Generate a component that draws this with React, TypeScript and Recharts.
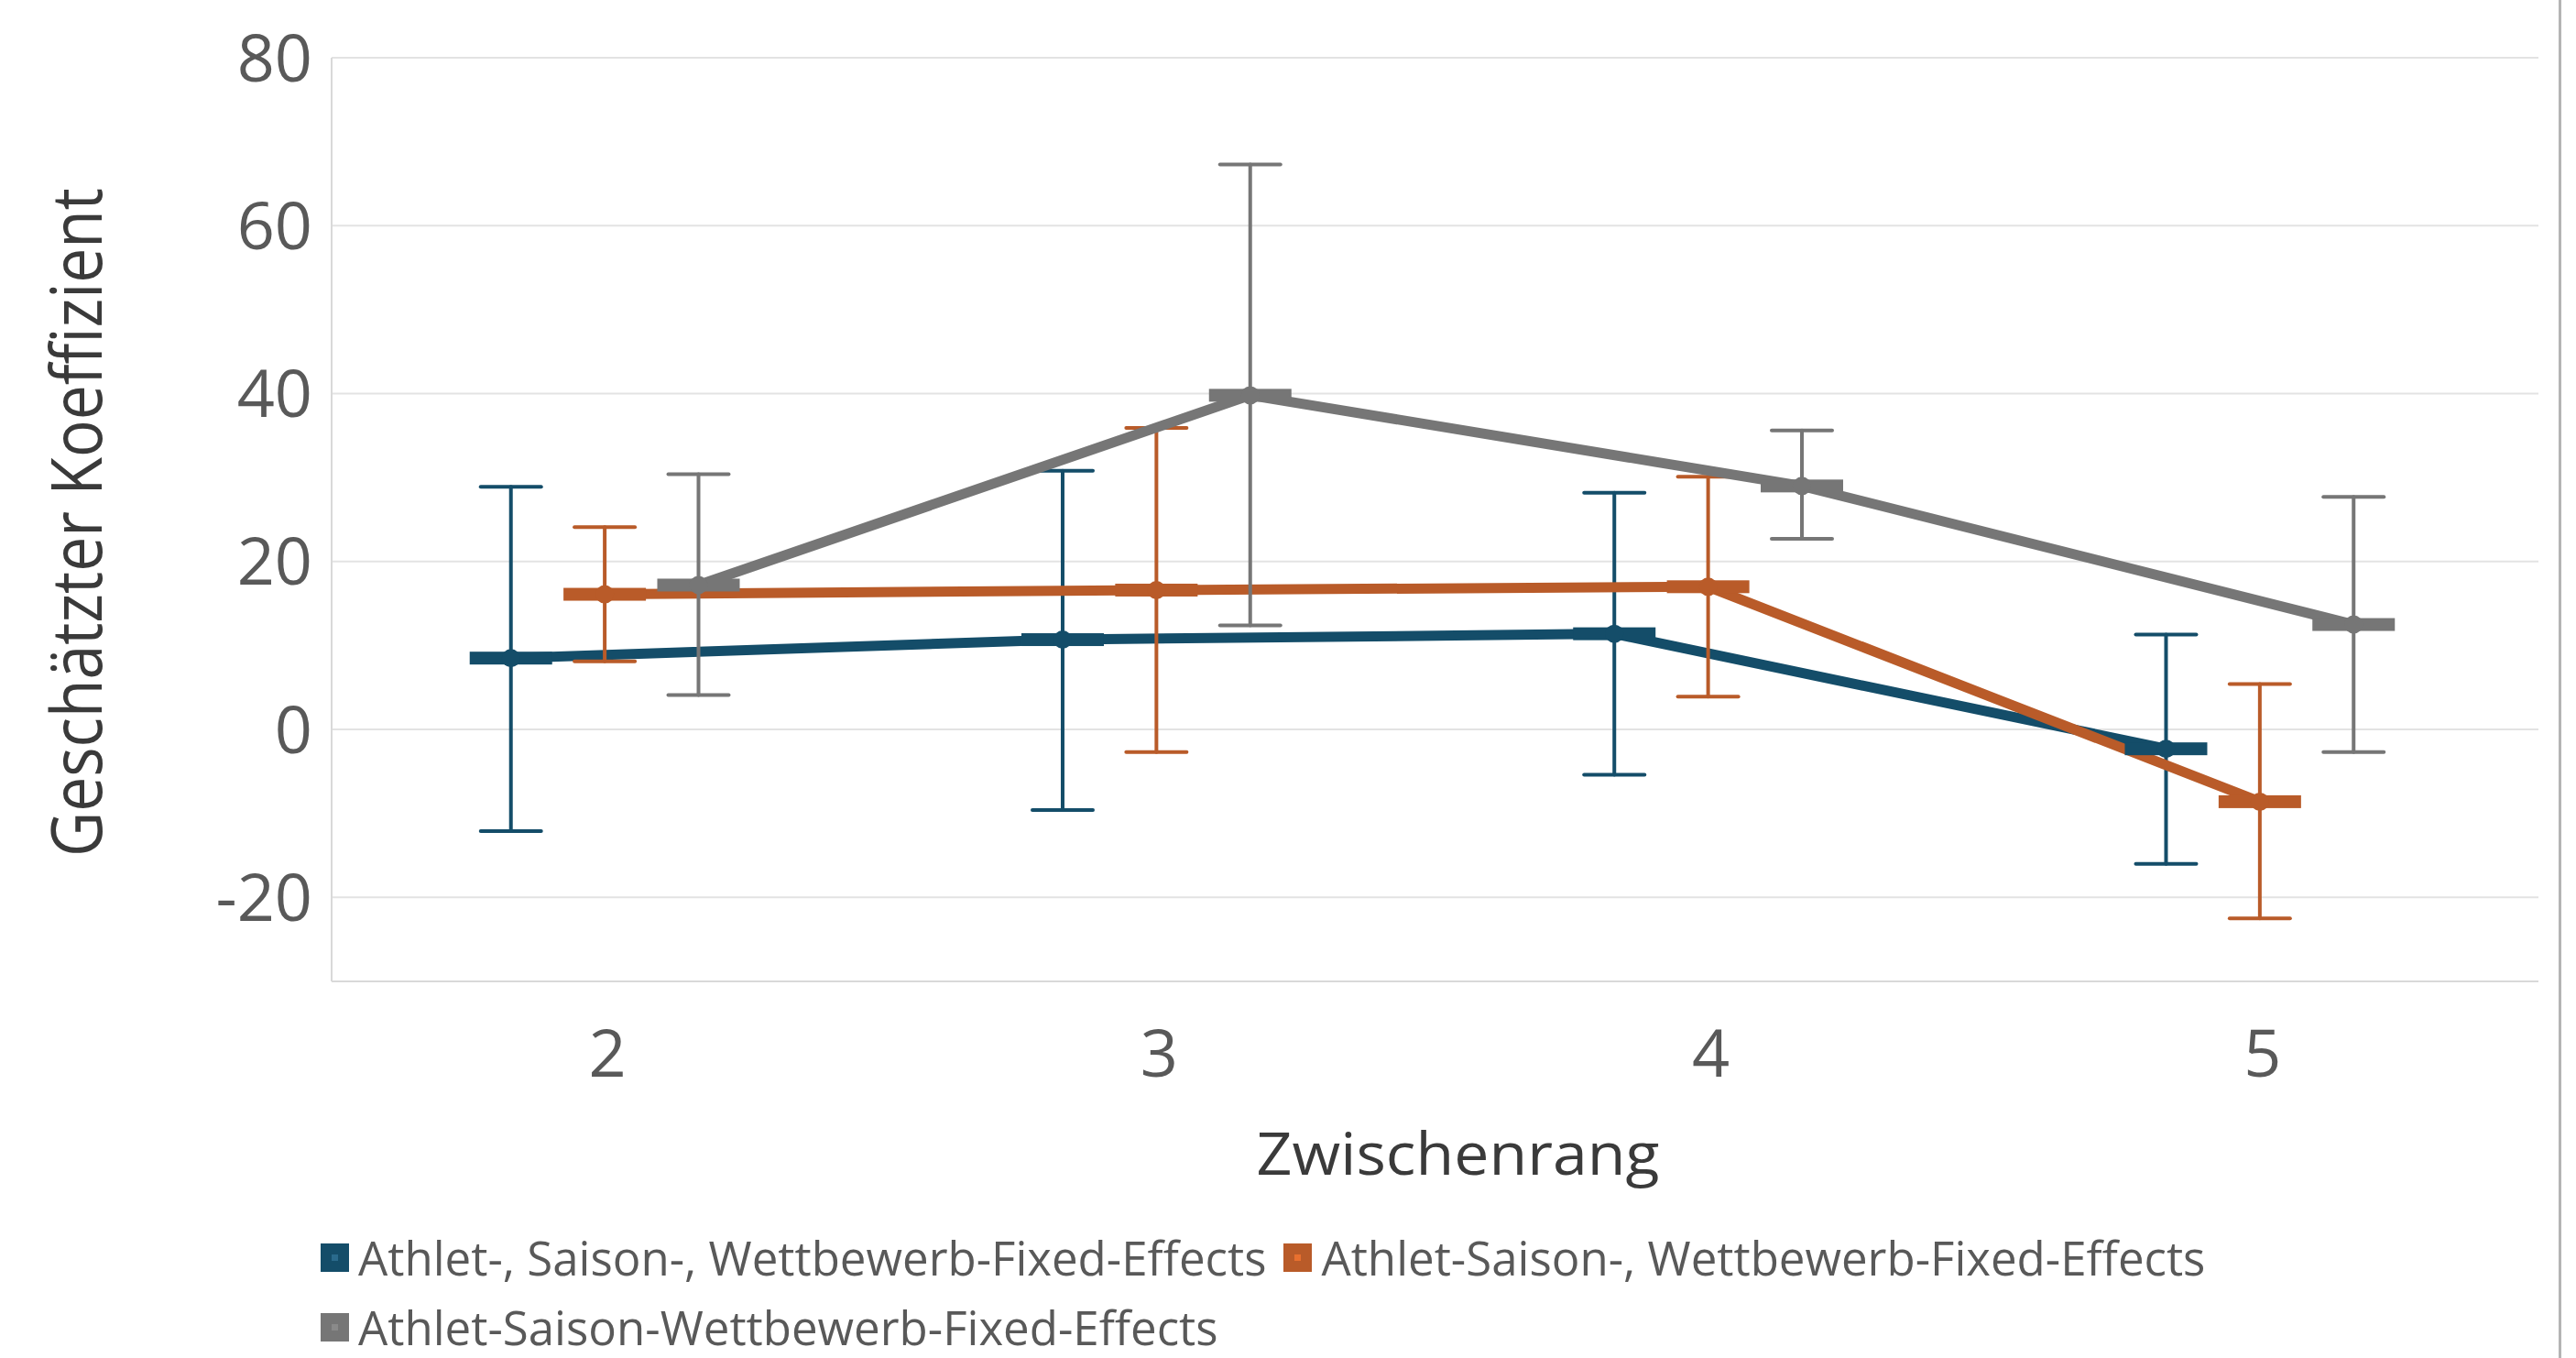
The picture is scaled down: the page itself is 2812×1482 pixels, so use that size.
import React from 'react';
import { ComposedChart, Line, XAxis, YAxis, CartesianGrid, ErrorBar, Legend } from 'recharts';

// ---- data ----
const categories = [2, 3, 4, 5];
const yTicks = [-20, 0, 20, 40, 60, 80];

const seriesNames = [
  'Athlet-, Saison-, Wettbewerb-Fixed-Effects',
  'Athlet-Saison-, Wettbewerb-Fixed-Effects',
  'Athlet-Saison-Wettbewerb-Fixed-Effects',
];

const blueValues = [8.5, 10.7, 11.4, -2.3];
const blueLow = [-12.1, -9.6, -5.4, -16.0];
const blueHigh = [28.9, 30.8, 28.2, 11.3];

const orangeValues = [16.1, 16.6, 17.0, -8.6];
const orangeLow = [8.1, -2.7, 3.9, -22.5];
const orangeHigh = [24.1, 35.9, 30.1, 5.4];

const grayValues = [17.2, 39.8, 29.0, 12.5];
const grayLow = [4.1, 12.4, 22.7, -2.7];
const grayHigh = [30.4, 67.3, 35.6, 27.7];

const xTitle = 'Zwischenrang';
const yTitle = 'Geschätzter Koeffizient';

// ---- styling / layout ----
const COLORS = ['#144D69', '#B95B29', '#767676'];
const DOT_LIGHT = ['#2a6a8c', '#E8702F', '#8a8a8a'];
const OFFSETS = [-0.175, -0.005, 0.165];
const FONT = '"Open Sans", "Noto Sans", sans-serif';

function buildSeries(values: number[], lows: number[], highs: number[], offset: number) {
  return categories.map((c, i) => ({
    x: c + offset,
    y: values[i],
    err: [values[i] - lows[i], highs[i] - values[i]],
  }));
}

const seriesData = [
  buildSeries(blueValues, blueLow, blueHigh, OFFSETS[0]),
  buildSeries(orangeValues, orangeLow, orangeHigh, OFFSETS[1]),
  buildSeries(grayValues, grayLow, grayHigh, OFFSETS[2]),
];

const makeDot = (color: string) => (props: any) => {
  const { cx, cy, index } = props;
  if (cx == null || cy == null) return <g key={`e-${index}`} />;
  return (
    <g key={`d-${index}`}>
      <rect x={cx - 45} y={cy - 7} width={90} height={14} fill={color} />
      <circle cx={cx} cy={cy} r={10} fill={color} />
    </g>
  );
};

const renderLegend = () => (
  <div
    style={{
      display: 'flex',
      flexWrap: 'wrap',
      columnGap: 19,
      rowGap: 20,
      fontFamily: FONT,
      fontSize: 51,
      lineHeight: '56px',
      color: '#595959',
      width: 2150,
    }}
  >
    {seriesNames.map((name, i) => (
      <div key={name} style={{ display: 'flex', alignItems: 'center', whiteSpace: 'nowrap', height: 56 }}>
        <div
          style={{
            width: 31,
            height: 31,
            background: COLORS[i],
            marginRight: 10,
            display: 'flex',
            alignItems: 'center',
            justifyContent: 'center',
          }}
        >
          <div style={{ width: 7, height: 7, background: DOT_LIGHT[i] }} />
        </div>
        <span>{name}</span>
      </div>
    ))}
  </div>
);

const XTitle = (props: any) => {
  const vb = props.viewBox || {};
  return (
    <text
      x={vb.x + vb.width / 2 + 25}
      y={vb.y + 211}
      textAnchor="middle"
      fontFamily={FONT}
      fontSize={64}
      fill="#3a3a3a"
      textLength={440}
      lengthAdjust="spacingAndGlyphs"
    >
      {xTitle}
    </text>
  );
};

const YTitle = (props: any) => {
  const vb = props.viewBox || {};
  const x = vb.x + 111;
  const y = vb.y + vb.height / 2 + 3;
  return (
    <text
      x={x}
      y={y}
      transform={`rotate(-90, ${x}, ${y})`}
      textAnchor="middle"
      fontFamily={FONT}
      fontSize={76}
      fill="#3a3a3a"
      textLength={730}
      lengthAdjust="spacingAndGlyphs"
    >
      {yTitle}
    </text>
  );
};

export default function App() {
  return (
    <div style={{ position: 'absolute', left: 0, top: 0, width: 2812, height: 1482, background: '#ffffff', overflow: 'hidden' }}>
      <ComposedChart width={2812} height={1482} margin={{ top: 63, right: 41, bottom: 171, left: 0 }}>
        <CartesianGrid horizontal vertical={false} stroke="#e3e3e3" strokeWidth={2} />
        <XAxis
          type="number"
          dataKey="x"
          domain={[1.5, 5.5]}
          ticks={categories}
          allowDataOverflow
          height={240}
          tickLine={false}
          tickSize={0}
          tickMargin={53}
          axisLine={{ stroke: '#d9d9d9', strokeWidth: 2 }}
          tick={{ fontFamily: FONT, fontSize: 72, fill: '#595959' }}
          label={{ content: XTitle }}
        />
        <YAxis
          type="number"
          domain={[-30, 80]}
          ticks={yTicks}
          allowDataOverflow
          width={362}
          tickLine={false}
          tickSize={0}
          tickMargin={21}
          axisLine={{ stroke: '#d9d9d9', strokeWidth: 2 }}
          tick={{ fontFamily: FONT, fontSize: 72, fill: '#595959' }}
          label={{ content: YTitle }}
        />
        {seriesData.map((d, i) => (
          <Line
            key={seriesNames[i]}
            data={d}
            dataKey="y"
            name={seriesNames[i]}
            type="linear"
            stroke={COLORS[i]}
            strokeWidth={11}
            dot={makeDot(COLORS[i])}
            activeDot={false}
            isAnimationActive={false}
          >
            <ErrorBar
              dataKey="err"
              direction="y"
              width={33}
              stroke={COLORS[i]}
              strokeWidth={4}
              strokeLinecap="round"
              isAnimationActive={false}
            />
          </Line>
        ))}
        <Legend
          layout="horizontal"
          verticalAlign="middle"
          align="center"
          content={renderLegend}
          wrapperStyle={{ top: 1344, left: 350, width: 2150, height: 134 }}
        />
      </ComposedChart>
      <div style={{ position: 'absolute', left: 2793, top: 0, width: 3, height: 1482, background: '#b4b4b4' }} />
    </div>
  );
}
